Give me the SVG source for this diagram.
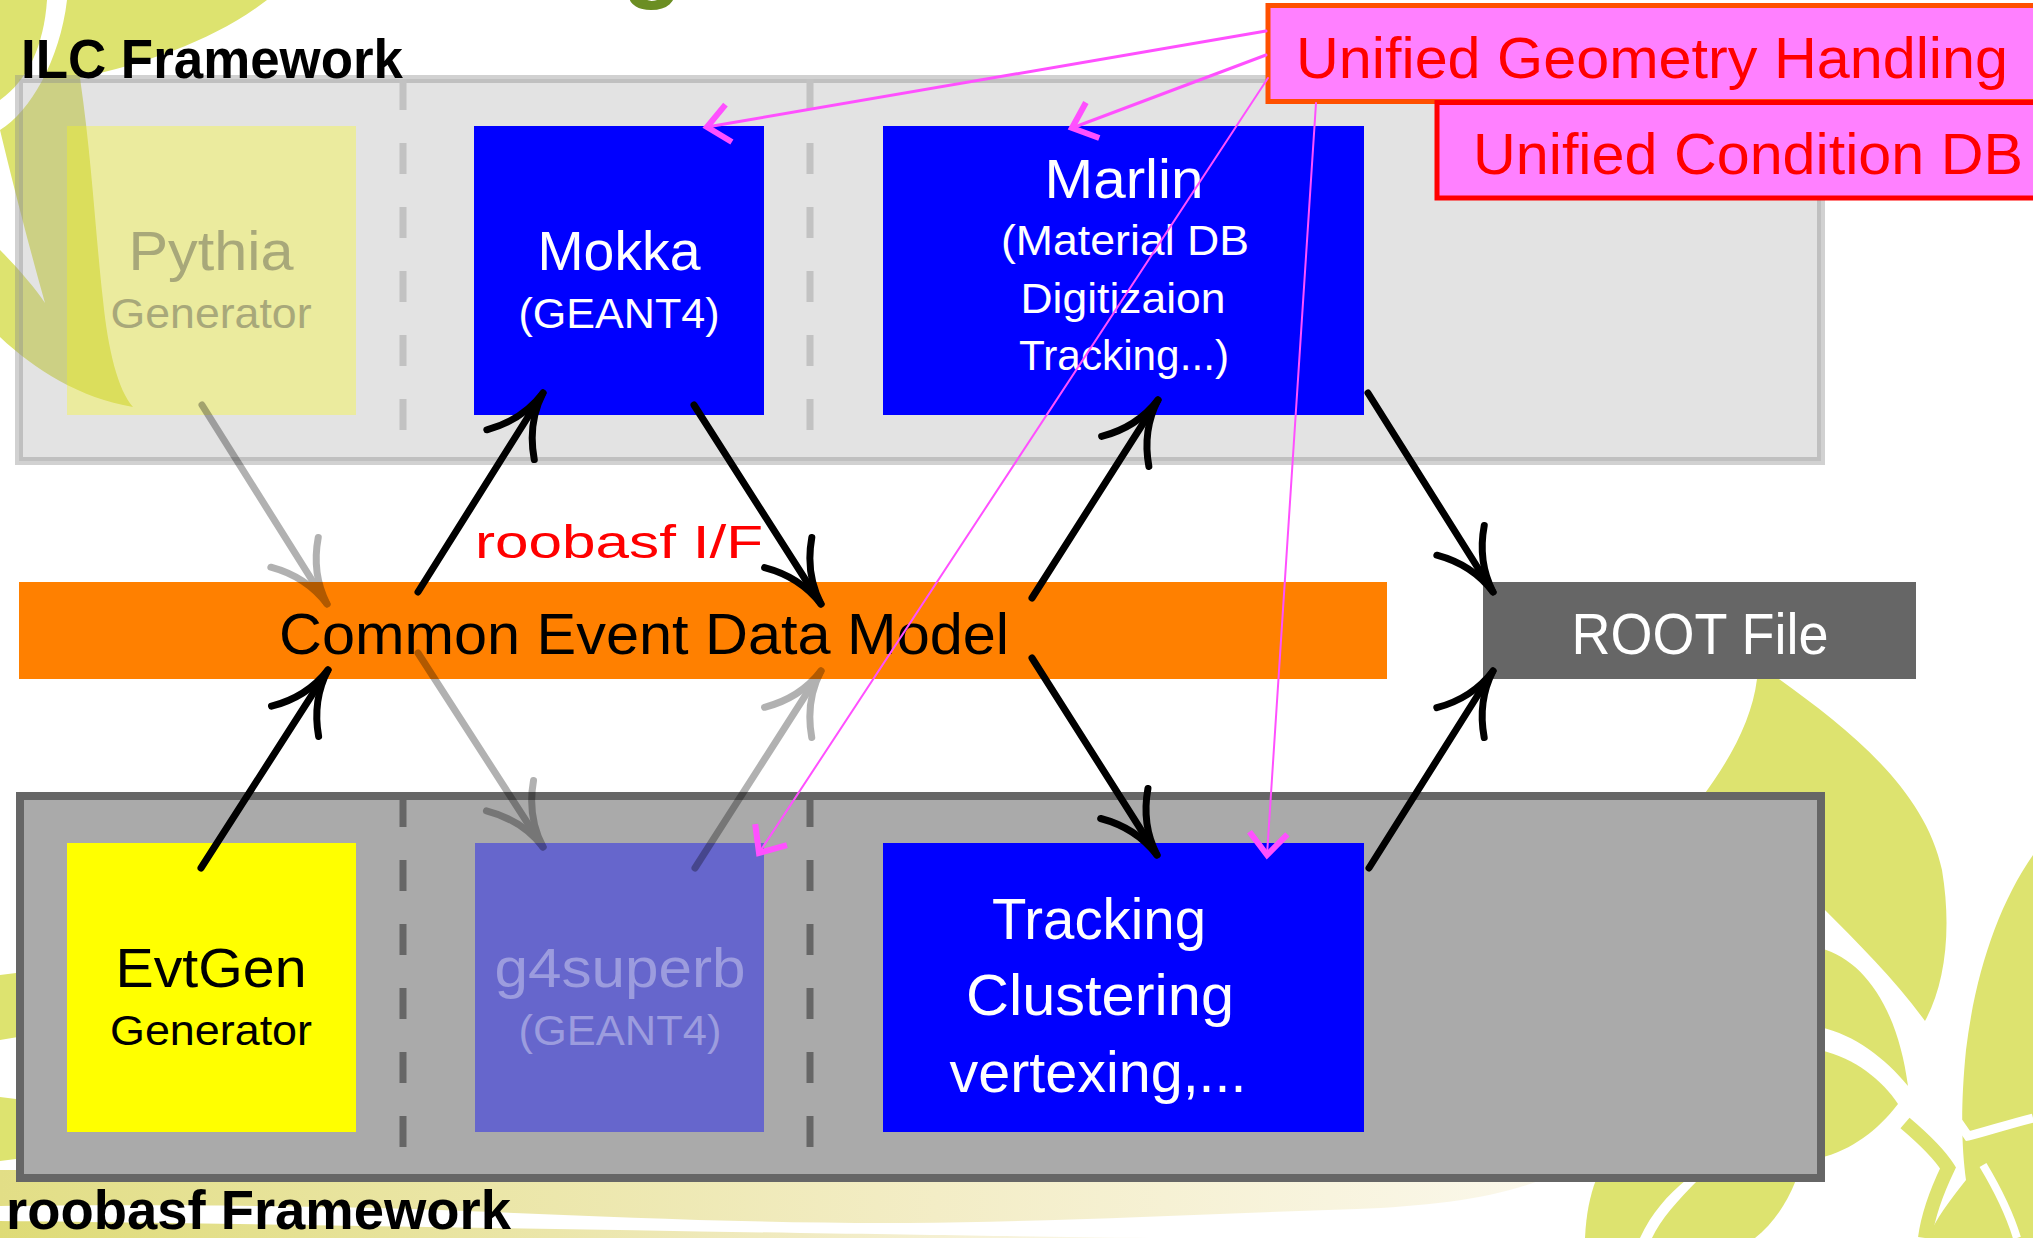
<svg xmlns="http://www.w3.org/2000/svg" width="2033" height="1238" viewBox="0 0 2033 1238">
  <defs>
    <style>
      text { font-family: "Liberation Sans", Arial, sans-serif; }
      .c { text-anchor: middle; }
      .leaf { fill: #dde36f; }
      .blue { fill: #0000ff; }
      .wt { fill: #ffffff; }
      .big { font-size: 56px; }
      .small { font-size: 42px; }
      .frame-label { font-size: 55px; font-weight: bold; fill: #000; }
      .unified { font-size: 57px; fill: #ff0000; }
      .arrow { fill: none; stroke: #000; stroke-width: 7; stroke-linecap: round; marker-end: url(#head); }
      .ghost { opacity: 0.3; }
      .link { fill: none; stroke: #ff50ff; stroke-linecap: round; marker-end: url(#chev); }
    </style>
    <!-- hand-drawn style arrowhead, two slightly bent barbs -->
    <marker id="head" markerUnits="userSpaceOnUse" orient="auto" markerWidth="1" markerHeight="1" refX="0" refY="0" style="overflow:visible">
      <path d="M-61,-28 Q-34,-3 0,0 Q-34,3 -61,28" fill="none" stroke="#000" stroke-width="7" stroke-linecap="round" stroke-linejoin="round"/>
    </marker>
    <!-- chevron head for the magenta pointers -->
    <marker id="chev" markerUnits="userSpaceOnUse" orient="auto" markerWidth="1" markerHeight="1" refX="0" refY="0" style="overflow:visible">
      <path d="M-22,-19 L0,0 L-22,19" fill="none" stroke="#ff50ff" stroke-width="6"/>
    </marker>
    <linearGradient id="bandA" x1="0" y1="0" x2="1" y2="0">
      <stop offset="0" stop-color="#e2de86"/>
      <stop offset="0.6" stop-color="#f3edc6"/>
      <stop offset="1" stop-color="#fbf8ec"/>
    </linearGradient>
    <linearGradient id="bandB" x1="0" y1="0" x2="1" y2="0">
      <stop offset="0" stop-color="#dedb76"/>
      <stop offset="0.7" stop-color="#f1ebc2"/>
      <stop offset="1" stop-color="#fbf8ec"/>
    </linearGradient>
  </defs>

  <!-- page -->
  <rect x="0" y="0" width="2033" height="1238" fill="#ffffff"/>

  <!-- background foliage -->
  <g id="foliage">
    <path class="leaf" d="M0,0 H47 C44,45 28,80 0,100 Z"/>
    <path class="leaf" d="M67,0 H267 C215,40 150,62 80,78 C92,160 96,240 103,300 C108,350 118,390 133,407 C80,398 35,370 0,337 V250 C18,268 35,288 45,303 C30,250 12,180 0,130 C30,112 60,60 67,0 Z"/>
    <path class="leaf" d="M0,975 L24,972 L24,1036 L0,1040 Z"/>
    <path class="leaf" d="M0,1097 L24,1100 L24,1158 L0,1161 Z"/>
    <path fill="url(#bandA)" d="M0,1170 H1560 C1520,1195 1440,1206 1357,1209 C1200,1214 1050,1222 908,1223 C700,1224 500,1210 330,1207 C200,1205 90,1205 0,1206 Z"/>
    <path fill="url(#bandB)" d="M0,1221 C200,1223 500,1228 800,1233 C950,1235 1050,1237 1150,1238 H0 Z"/>
    <path class="leaf" d="M1757,679 H1779 C1850,730 1925,790 1942,870 C1952,930 1945,985 1925,1021 C1895,980 1860,945 1820,905 L1700,800 C1730,760 1752,720 1757,679 Z"/>
    <path class="leaf" d="M1820,948 C1865,960 1898,1010 1908,1086 C1885,1058 1855,1035 1820,1027 Z"/>
    <path class="leaf" d="M1820,1050 C1855,1058 1882,1080 1898,1104 C1878,1130 1852,1150 1820,1158 Z"/>
    <path class="leaf" d="M1596,1180 H1796 C1786,1205 1772,1225 1755,1238 H1585 C1586,1215 1590,1195 1596,1180 Z"/>
    <path fill="#ffffff" d="M1686,1180 H1698 C1678,1200 1660,1220 1652,1238 H1640 C1652,1212 1668,1195 1686,1180 Z"/>
    <path class="leaf" d="M2033,855 C1998,905 1975,975 1966,1050 C1960,1110 1962,1150 1966,1180 C1950,1200 1935,1220 1928,1238 H2033 Z"/>
    <path d="M1925,1088 C1945,1105 1958,1120 1968,1136 C1985,1132 2005,1125 2033,1118" fill="none" stroke="#ffffff" stroke-width="9"/>
    <path d="M1905,1123 C1925,1140 1940,1155 1948,1168 C1935,1195 1928,1215 1925,1238" fill="none" stroke="#dde36f" stroke-width="14"/>
    <path d="M1983,1165 C1998,1190 2010,1215 2017,1238" fill="none" stroke="#ffffff" stroke-width="8"/>
  </g>

  <!-- tail of the slide heading -->
  <text x="622" y="-11" font-size="100" font-weight="bold" fill="#6b8e23">g</text>

  <!-- framework panels -->
  <g id="ilc-framework">
    <rect x="19" y="79" width="1802" height="382" fill="#acacac" fill-opacity="0.34" stroke="#8c8c8c" stroke-opacity="0.4" stroke-width="8"/>
    <path d="M403,79 V461 M810,79 V461" stroke="#c2c2c2" stroke-width="7" stroke-dasharray="31 33"/>
    <text class="frame-label" x="21" y="78" textLength="382" lengthAdjust="spacingAndGlyphs">ILC Framework</text>
  </g>
  <g id="roobasf-framework">
    <rect x="20" y="796" width="1801" height="382" fill="#aaaaaa" stroke="#666666" stroke-width="8"/>
    <path d="M403,796 V1178 M810,796 V1178" stroke="#666666" stroke-width="7" stroke-dasharray="31 33"/>
    <text class="frame-label" x="6" y="1229" font-size="53" textLength="505" lengthAdjust="spacingAndGlyphs">roobasf Framework</text>
  </g>

  <!-- shared data model and output -->
  <g id="cedm">
    <rect x="19" y="582" width="1368" height="97" fill="#ff8000"/>
    <text x="279" y="654" font-size="57" fill="#000" textLength="730" lengthAdjust="spacingAndGlyphs">Common Event Data Model</text>
  </g>
  <g id="root-file">
    <rect x="1483" y="582" width="433" height="97" fill="#666666"/>
    <text class="c wt" x="1700" y="654" font-size="57" textLength="257" lengthAdjust="spacingAndGlyphs">ROOT File</text>
  </g>

  <!-- ILC side nodes -->
  <g id="pythia">
    <rect x="67" y="126" width="289" height="289" fill="#ffff00" fill-opacity="0.3"/>
    <text class="c big" x="211" y="270" fill="#a8a87a" textLength="165" lengthAdjust="spacingAndGlyphs">Pythia</text>
    <text class="c" x="211" y="328" font-size="43" fill="#a8a87a" textLength="201" lengthAdjust="spacingAndGlyphs">Generator</text>
  </g>
  <g id="mokka">
    <rect class="blue" x="474" y="126" width="290" height="289"/>
    <text class="c big wt" x="619" y="270" textLength="163" lengthAdjust="spacingAndGlyphs">Mokka</text>
    <text class="c small wt" x="619" y="328" textLength="201" lengthAdjust="spacingAndGlyphs">(GEANT4)</text>
  </g>
  <g id="marlin">
    <rect class="blue" x="883" y="126" width="481" height="289"/>
    <text class="c big wt" x="1124" y="198" textLength="159" lengthAdjust="spacingAndGlyphs">Marlin</text>
    <text class="c small wt" x="1125" y="255" textLength="248" lengthAdjust="spacingAndGlyphs">(Material DB</text>
    <text class="c small wt" x="1123" y="313" textLength="205" lengthAdjust="spacingAndGlyphs">Digitizaion</text>
    <text class="c small wt" x="1124" y="370" textLength="210" lengthAdjust="spacingAndGlyphs">Tracking...)</text>
  </g>

  <!-- roobasf side nodes -->
  <g id="evtgen">
    <rect x="67" y="843" width="289" height="289" fill="#ffff00"/>
    <text class="c big" x="211" y="987" fill="#000" textLength="191" lengthAdjust="spacingAndGlyphs">EvtGen</text>
    <text class="c small" x="211" y="1045" fill="#000" textLength="202" lengthAdjust="spacingAndGlyphs">Generator</text>
  </g>
  <g id="g4superb">
    <rect x="475" y="843" width="289" height="289" fill="#0000ff" fill-opacity="0.4"/>
    <text class="c big" x="620" y="987" fill="#9c9cde" textLength="251" lengthAdjust="spacingAndGlyphs">g4superb</text>
    <text class="c small" x="620" y="1045" fill="#9c9cde" textLength="203" lengthAdjust="spacingAndGlyphs">(GEANT4)</text>
  </g>
  <g id="tracking">
    <rect class="blue" x="883" y="843" width="481" height="289"/>
    <text class="c wt" x="1099" y="939" font-size="57" textLength="214" lengthAdjust="spacingAndGlyphs">Tracking</text>
    <text class="c wt" x="1100" y="1015" font-size="57" textLength="268" lengthAdjust="spacingAndGlyphs">Clustering</text>
    <text class="c wt" x="1098" y="1092" font-size="57" textLength="297" lengthAdjust="spacingAndGlyphs">vertexing,...</text>
  </g>

  <!-- unification callouts -->
  <g id="geometry">
    <rect x="1268" y="5.5" width="800" height="96" fill="#ff80ff" stroke="#ff5000" stroke-width="5"/>
    <text class="unified" x="1296" y="78" textLength="712" lengthAdjust="spacingAndGlyphs">Unified Geometry Handling</text>
  </g>
  <g id="condition-db">
    <rect x="1437" y="102.5" width="700" height="95.5" fill="#ff80ff" stroke="#ff0000" stroke-width="5"/>
    <text class="unified" x="1473" y="174" textLength="550" lengthAdjust="spacingAndGlyphs">Unified Condition DB</text>
  </g>

  <!-- interface label -->
  <text id="if-label" x="475" y="558" font-size="47" fill="#ff0000" textLength="288" lengthAdjust="spacingAndGlyphs">roobasf I/F</text>

  <!-- connectors -->
  <g id="connectors">
    <line class="arrow" x1="201" y1="868" x2="328" y2="670"/>
    <line class="arrow" x1="418" y1="592" x2="543" y2="393"/>
    <line class="arrow" x1="694" y1="405" x2="821" y2="604"/>
    <line class="arrow" x1="1032" y1="598" x2="1158" y2="400"/>
    <line class="arrow" x1="1368" y1="393" x2="1493" y2="592"/>
    <line class="arrow" x1="1032" y1="658" x2="1157" y2="855"/>
    <line class="arrow" x1="1369" y1="868" x2="1493" y2="671"/>
    <g class="ghost"><line class="arrow" x1="202" y1="405" x2="327" y2="604"/></g>
    <g class="ghost"><line class="arrow" x1="418" y1="653" x2="543" y2="847"/></g>
    <g class="ghost"><line class="arrow" x1="695" y1="868" x2="821" y2="671"/></g>
    <line class="link" stroke-width="3" x1="1266" y1="31" x2="707" y2="127"/>
    <line class="link" stroke-width="3" x1="1266" y1="55" x2="1072" y2="128"/>
    <line class="link" stroke-width="2" x1="1268" y1="78" x2="759" y2="853"/>
    <line class="link" stroke-width="2" x1="1316" y1="103" x2="1267" y2="855"/>
  </g>
</svg>
